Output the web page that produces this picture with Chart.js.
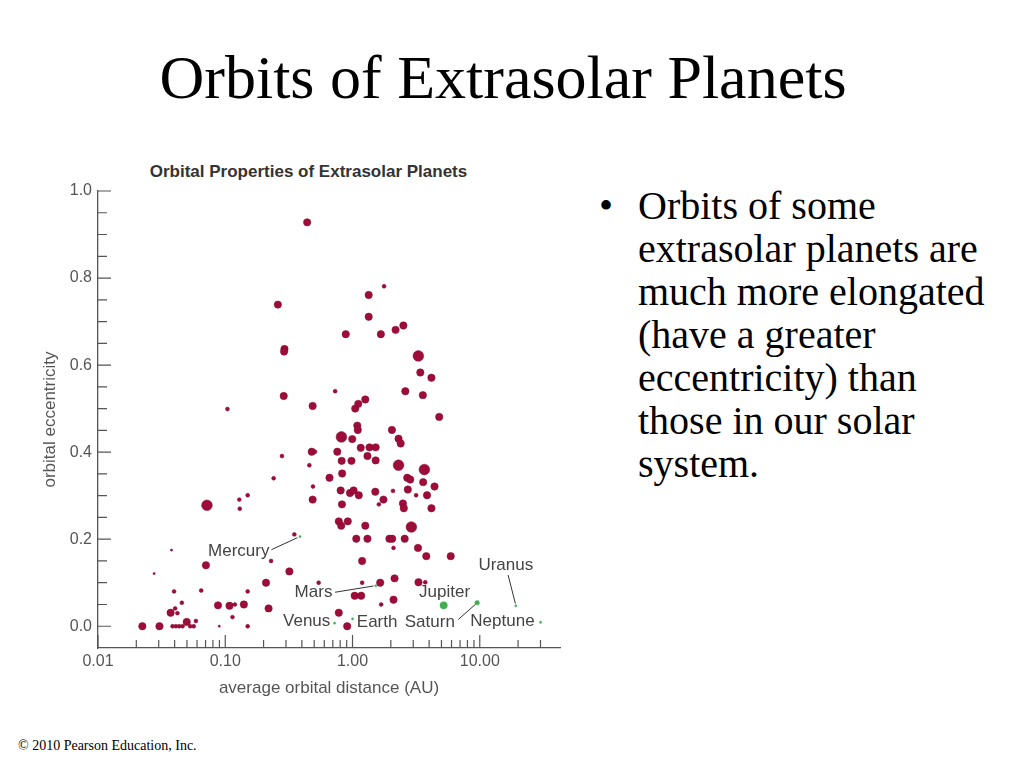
<!DOCTYPE html>
<html>
<head>
<meta charset="utf-8">
<title>Orbits of Extrasolar Planets</title>
<script src="https://cdn.jsdelivr.net/npm/chart.js@4.4.1/dist/chart.umd.min.js"></script>
<style>
  html, body { margin: 0; padding: 0; background: #fff; }
  body { width: 1024px; height: 768px; position: relative; overflow: hidden; font-family: "Liberation Serif", "Times New Roman", serif; }
  h1 { position: absolute; left: 0; top: 41px; width: 1006px; margin: 0; text-align: center; font-weight: normal; font-size: 62px; line-height: 72px; color: #000; }
  .chart-title { position: absolute; left: 0; top: 162px; width: 617px; text-align: center; font: bold 17px/20px "Liberation Sans", Arial, sans-serif; color: #333; }
  .chart-box { position: absolute; left: 0; top: 150px; width: 580px; height: 560px; }
  .bullet { position: absolute; left: 599px; top: 184px; font-size: 40px; line-height: 43px; }
  .points { position: absolute; left: 638px; top: 184px; width: 386px; font-size: 40px; line-height: 43px; color: #000; }
  .footer { position: absolute; left: 18px; top: 738px; font-size: 14px; line-height: 16px; }
</style>
</head>
<body>
<h1>Orbits of Extrasolar Planets</h1>
<div class="chart-title">Orbital Properties of Extrasolar Planets</div>
<div class="chart-box"><canvas id="orbits" width="580" height="560"></canvas></div>
<div class="bullet">•</div>
<div class="points">Orbits of some<br>extrasolar planets are<br>much more elongated<br>(have a greater<br>eccentricity) than<br>those in our solar<br>system.</div>
<div class="footer">© 2010 Pearson Education, Inc.</div>

<script>
// Extrasolar planets: average orbital distance (AU), eccentricity, rough mass (Jupiter masses)
const exoDistance = [
  0.0223, 0.0304, 0.0385, 0.0409, 0.0435, 0.0462, 0.0498, 0.053, 0.0565, 0.0588,
  0.0897, 0.150, 0.0372, 0.0421, 0.0404, 0.0456, 0.0396, 0.0647, 0.0877, 0.108,
  0.119, 0.140, 0.150, 0.114, 0.219, 0.209, 0.319, 0.229, 0.0705, 0.0378,
  0.0276, 0.349, 0.0718, 0.129, 0.150, 0.130, 0.240, 0.279, 0.104, 0.288,
  0.292, 0.290, 0.259, 0.440, 1.77, 1.34, 1.34, 0.885, 1.67, 2.18,
  2.51, 3.29, 3.41, 4.17, 0.73, 2.60, 3.57, 0.486, 1.05, 1.11,
  1.26, 4.80, 1.09, 1.10, 2.04, 0.818, 0.995, 2.30, 2.39, 0.478,
  0.507, 0.759, 1.16, 1.36, 1.52, 1.31, 0.822, 0.981, 1.52, 0.458,
  2.30, 3.67, 0.659, 0.829, 2.69, 2.84, 3.59, 4.41, 0.489, 0.807,
  0.955, 1.02, 1.12, 1.51, 2.08, 2.72, 3.16, 3.85, 0.486, 0.826,
  1.61, 1.75, 2.49, 2.53, 4.17, 0.780, 0.815, 0.918, 1.26, 2.90,
  1.07, 1.31, 1.95, 2.05, 2.57, 2.10, 3.27, 3.80, 5.91, 1.19,
  0.542, 1.19, 1.65, 2.14, 3.30, 3.73, 1.04, 1.17, 2.10, 1.68,
  0.780, 0.908
];
const exoEccentricity = [
  0.000, 0.000, 0.000, 0.000, 0.000, 0.000, 0.010, 0.000, 0.000, 0.012,
  0.000, 0.000, 0.031, 0.030, 0.041, 0.054, 0.080, 0.082, 0.048, 0.047,
  0.050, 0.050, 0.080, 0.021, 0.041, 0.100, 0.126, 0.150, 0.140, 0.175,
  0.121, 0.211, 0.278, 0.291, 0.301, 0.270, 0.340, 0.391, 0.499, 0.529,
  0.637, 0.631, 0.739, 0.928, 0.781, 0.761, 0.711, 0.671, 0.671, 0.681,
  0.691, 0.621, 0.583, 0.571, 0.540, 0.540, 0.531, 0.506, 0.500, 0.511,
  0.521, 0.481, 0.461, 0.451, 0.451, 0.435, 0.430, 0.431, 0.420, 0.401,
  0.401, 0.401, 0.410, 0.411, 0.411, 0.391, 0.380, 0.380, 0.381, 0.370,
  0.370, 0.360, 0.341, 0.351, 0.341, 0.337, 0.331, 0.321, 0.321, 0.312,
  0.306, 0.312, 0.301, 0.309, 0.311, 0.314, 0.301, 0.301, 0.291, 0.280,
  0.280, 0.291, 0.282, 0.271, 0.271, 0.241, 0.231, 0.241, 0.231, 0.228,
  0.201, 0.201, 0.201, 0.201, 0.201, 0.180, 0.180, 0.161, 0.161, 0.150,
  0.100, 0.100, 0.100, 0.110, 0.101, 0.101, 0.070, 0.070, 0.061, 0.050,
  0.031, 0.000
];
const exoMass = [
  1, 1, 0.2, 0.2, 0.2, 0.2, 1, 0.2, 0.2, 0.2,
  0.05, 0.2, 1, 0.2, 0.2, 0.2, 0.2, 0.2, 1, 1,
  0.2, 1, 0.2, 0.2, 1, 1, 1, 0.2, 1, 0.05,
  0.05, 0.2, 2.5, 0.2, 0.2, 0.2, 0.2, 0.2, 0.2, 1,
  1, 1, 1, 1, 0.2, 1, 1, 1, 1, 1,
  1, 2.5, 1, 1, 0.2, 1, 1, 1, 1, 1,
  1, 1, 1, 1, 1, 2.5, 1, 1, 1, 1,
  0.2, 1, 1, 1, 1, 1, 1, 1, 1, 0.2,
  2.5, 2.5, 1, 1, 1, 1, 1, 1, 0.2, 1,
  1, 1, 1, 1, 0.2, 1, 0.2, 1, 1, 1,
  0.2, 1, 1, 1, 1, 1, 1, 1, 1, 2.5,
  1, 1, 1, 1, 1, 0.2, 1, 1, 1, 1,
  0.2, 0.2, 1, 1, 1, 0.2, 1, 1, 1, 0.2,
  1, 1
];

// Our own solar system
const solarNames = ["Mercury", "Venus", "Earth", "Mars", "Jupiter", "Saturn", "Uranus", "Neptune"];
const solarDistance = [0.387, 0.723, 1.0, 1.524, 5.203, 9.537, 19.19, 30.07];
const solarEccentricity = [0.206, 0.007, 0.017, 0.093, 0.048, 0.054, 0.047, 0.009];
const solarMass = [0.00017, 0.00256, 0.00315, 0.00034, 1.0, 0.299, 0.0457, 0.054];

// Axis ticks
const xTickValues = [0.01, 0.1, 1, 10];
const xMinorTicks = [0.02, 0.03, 0.04, 0.05, 0.06, 0.07, 0.08, 0.09,
  0.2, 0.3, 0.4, 0.5, 0.6, 0.7, 0.8, 0.9, 2, 3, 4, 5, 6, 7, 8, 9, 20, 30];
const yTickValues = [0, 0.2, 0.4, 0.6, 0.8, 1.0];
const yMinorTicks = [0.05, 0.1, 0.15, 0.25, 0.3, 0.35, 0.45, 0.5, 0.55, 0.65, 0.7, 0.75, 0.85, 0.9, 0.95];

// bubble radius in px from planet mass
const radiusFor = (m) => Math.max(1.1, 3.7 * Math.pow(m, 0.4));

// where each solar system name sits relative to its dot (px)
const labelPlacement = {
  Mercury: { dx: -30.6, dy: 14.3, align: "right", line: [-28.6, 13.1, -2.6, 1.1] },
  Venus:   { dx: -4.3,  dy: -1.6, align: "right" },
  Earth:   { dx: 4.3,   dy: 3.1,  align: "left" },
  Mars:    { dx: -43.4, dy: 6.8,  align: "right", line: [-40.7, 6.5, -2.2, 0.2] },
  Jupiter: { dx: 0.9,   dy: -12.7, align: "center" },
  Saturn:  { dx: -22.3, dy: 19.4, align: "right", line: [-18.8, 16.7, -1.8, 1.7] },
  Uranus:  { dx: -10,   dy: -40.7, align: "center", line: [-7.7, -30.7, -0.4, -2.2] },
  Neptune: { dx: -6,    dy: -0.6, align: "right" },
};

const sansFont = '"Liberation Sans", Arial, Helvetica, sans-serif';

// inward tick marks + solar system labels
const axisMarks = {
  id: "axisMarks",
  afterDraw(chart) {
    const { ctx, chartArea, scales: { x, y } } = chart;
    ctx.save();
    ctx.strokeStyle = "#555";
    ctx.lineWidth = 1.2;
    ctx.beginPath();
    xTickValues.forEach((v) => {
      const px = x.getPixelForValue(v);
      ctx.moveTo(px, chartArea.bottom);
      ctx.lineTo(px, chartArea.bottom - 13);
    });
    xMinorTicks.forEach((v) => {
      const px = x.getPixelForValue(v);
      ctx.moveTo(px, chartArea.bottom);
      ctx.lineTo(px, chartArea.bottom - 8);
    });
    yTickValues.forEach((v) => {
      const py = y.getPixelForValue(v);
      ctx.moveTo(chartArea.left, py);
      ctx.lineTo(chartArea.left + 13, py);
    });
    yMinorTicks.forEach((v) => {
      const py = y.getPixelForValue(v);
      ctx.moveTo(chartArea.left, py);
      ctx.lineTo(chartArea.left + 9, py);
    });
    ctx.stroke();

    ctx.font = "17px " + sansFont;
    ctx.fillStyle = "#444";
    ctx.strokeStyle = "#333";
    ctx.lineWidth = 1;
    ctx.textBaseline = "middle";
    solarNames.forEach((name, i) => {
      const px = x.getPixelForValue(solarDistance[i]);
      const py = y.getPixelForValue(solarEccentricity[i]);
      const p = labelPlacement[name];
      ctx.textAlign = p.align;
      ctx.fillText(name, px + p.dx, py + p.dy);
      if (p.line) {
        ctx.beginPath();
        ctx.moveTo(px + p.line[0], py + p.line[1]);
        ctx.lineTo(px + p.line[2], py + p.line[3]);
        ctx.stroke();
      }
    });
    ctx.restore();
  },
};

new Chart(document.getElementById("orbits"), {
  type: "bubble",
  data: {
    datasets: [
      {
        label: "Extrasolar planets",
        data: exoDistance.map((d, i) => ({ x: d, y: exoEccentricity[i], r: radiusFor(exoMass[i]) })),
        backgroundColor: "#9e0c3a",
        borderColor: "#82092f",
        borderWidth: 0.5,
      },
      {
        label: "Solar system",
        data: solarDistance.map((d, i) => ({ x: d, y: solarEccentricity[i], r: radiusFor(solarMass[i]) })),
        backgroundColor: "#41ad50",
        borderColor: "#41ad50",
        borderWidth: 0.5,
      },
    ],
  },
  options: {
    responsive: false,
    animation: false,
    events: [],
    layout: { padding: { top: 41, right: 20, left: 0, bottom: 0 } },
    plugins: {
      legend: { display: false },
      tooltip: { enabled: false },
    },
    scales: {
      x: {
        type: "logarithmic",
        min: 0.01,
        max: 42.7,
        afterBuildTicks: (s) => { s.ticks = xTickValues.map((v) => ({ value: v })); },
        afterFit: (s) => { s.height = 62; },
        grid: { display: false, drawTicks: false },
        border: { display: true, color: "#555", width: 1.3 },
        ticks: {
          padding: 4,
          color: "#555",
          font: { family: sansFont, size: 16 },
          maxRotation: 0,
          autoSkip: false,
          callback: (v) => Number(v).toFixed(2),
        },
        title: {
          display: true,
          text: "average orbital distance (AU)",
          color: "#555",
          font: { family: sansFont, size: 17 },
          padding: { top: 0, bottom: 11.8 },
        },
      },
      y: {
        min: -0.05,
        max: 1.0,
        afterBuildTicks: (s) => { s.ticks = yTickValues.map((v) => ({ value: v })); },
        afterFit: (s) => { s.width = 98; },
        grid: { display: false, drawTicks: false },
        border: { display: true, color: "#555", width: 1.3 },
        ticks: {
          padding: 6,
          color: "#555",
          font: { family: sansFont, size: 16 },
          callback: (v) => Number(v).toFixed(1),
        },
        title: {
          display: true,
          text: "orbital eccentricity",
          color: "#555",
          font: { family: sansFont, size: 17 },
          padding: { top: 39.8, bottom: 0 },
        },
      },
    },
  },
  plugins: [axisMarks],
});
</script>
</body>
</html>
